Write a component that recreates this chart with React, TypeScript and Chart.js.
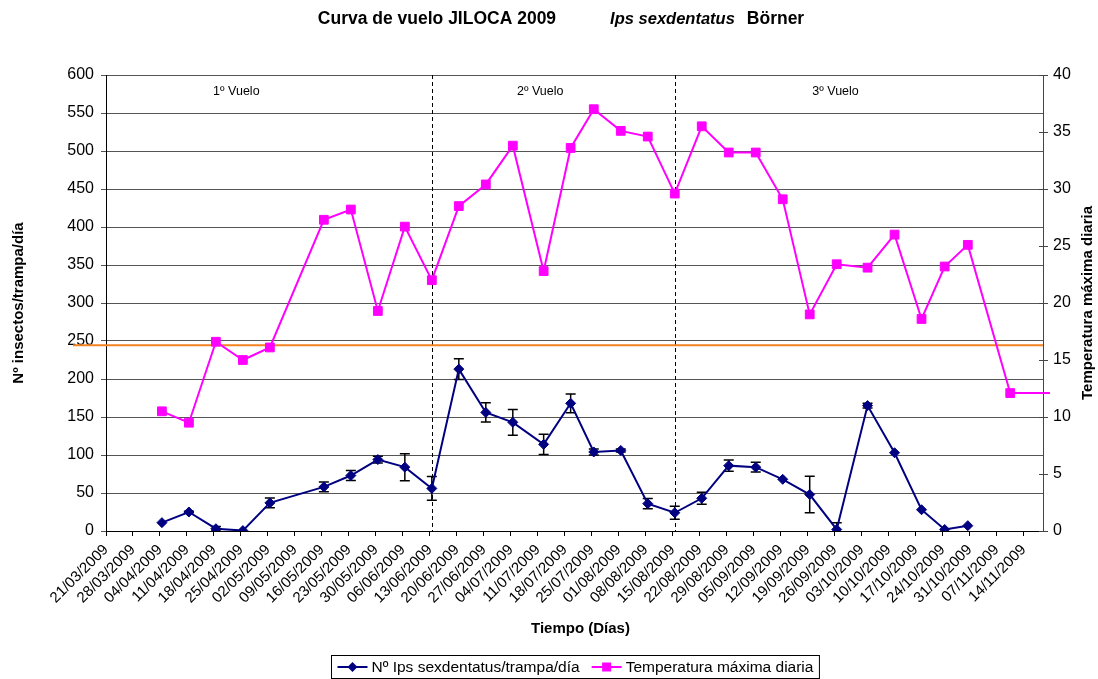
import React, { useEffect, useRef } from 'react';
import { Chart, registerables } from 'chart.js';

Chart.register(...registerables);

// Weekly tick labels on the date axis (days counted from 21/03/2009)
const tickLabels = [
  '21/03/2009', '28/03/2009', '04/04/2009', '11/04/2009', '18/04/2009', '25/04/2009',
  '02/05/2009', '09/05/2009', '16/05/2009', '23/05/2009', '30/05/2009', '06/06/2009',
  '13/06/2009', '20/06/2009', '27/06/2009', '04/07/2009', '11/07/2009', '18/07/2009',
  '25/07/2009', '01/08/2009', '08/08/2009', '15/08/2009', '22/08/2009', '29/08/2009',
  '05/09/2009', '12/09/2009', '19/09/2009', '26/09/2009', '03/10/2009', '10/10/2009',
  '17/10/2009', '24/10/2009', '31/10/2009', '07/11/2009', '14/11/2009',
];
const axisDays = 243;

// Sampling days (days since 21/03/2009)
const sampleDays = [14, 21, 28, 35, 42, 56, 63, 70, 77, 84, 91, 98, 105, 113, 120, 126, 133, 140, 147, 154, 161, 168, 175, 182, 189, 197, 204, 211, 217, 223];
const insectValues = [11, 25, 3, 0.5, 37, 58, 73, 94, 84, 56, 213, 156, 143, 114, 168, 104, 106, 36, 24, 43, 86, 84, 68, 48, 2, 165, 103, 28, 2, 7];
const insectErrors = [0, 1, 3, 0, 6.5, 6.5, 6.6, 4.4, 17.8, 15.6, 13.6, 12.7, 16.9, 13.4, 12.3, 4, 2, 6.6, 8.6, 7.9, 7.5, 6.4, 0, 24, 8.8, 3, 0, 0, 0, 0];

const tempDays = [14, 21, 28, 35, 42, 56, 63, 70, 77, 84, 91, 98, 105, 113, 120, 126, 133, 140, 147, 154, 161, 168, 175, 182, 189, 197, 204, 211, 217, 223, 234, 244.3];
const tempValues = [10.5, 9.5, 16.6, 15.0, 16.1, 27.3, 28.2, 19.3, 26.7, 22.0, 28.5, 30.4, 33.8, 22.8, 33.6, 37.0, 35.1, 34.6, 29.6, 35.5, 33.2, 33.2, 29.1, 19.0, 23.4, 23.1, 26.0, 18.6, 23.2, 25.1, 12.1, 12.1];

const flightLabels = ['1º Vuelo', '2º Vuelo', '3º Vuelo'];
const flightLabelDays = [33.8, 112.6, 189.2];
const flightLimitDays = [84, 147];
const thresholdTemp = 16.3;

const seriesNames = ['Nº Ips sexdentatus/trampa/día', 'Temperatura máxima diaria'];
const yTitle = 'Nº insectos/trampa/día';
const y2Title = 'Temperatura máxima diaria';
const xTitle = 'Tiempo (Días)';
const titleParts = ['Curva de vuelo JILOCA 2009', 'Ips sexdentatus', 'Börner'];

const FONT = '"Liberation Sans", Arial, sans-serif';
const NAVY = '#000080';
const MAGENTA = '#FF00FF';

const decor = {
  id: 'decor',
  beforeDatasetsDraw(chart: any) {
    const { ctx, chartArea: a, scales } = chart;
    const x = scales.x, y = scales.y, y2 = scales.y2;
    ctx.save();
    // dashed flight limits
    ctx.strokeStyle = '#000';
    ctx.lineWidth = 1;
    ctx.setLineDash([4, 3]);
    flightLimitDays.forEach((d) => {
      const px = Math.round(x.getPixelForValue(d + 0.5)) + 0.5;
      ctx.beginPath();
      ctx.moveTo(px, a.top);
      ctx.lineTo(px, a.bottom);
      ctx.stroke();
    });
    ctx.setLineDash([]);
    // threshold line
    const py = y2.getPixelForValue(thresholdTemp);
    ctx.strokeStyle = '#F58220';
    ctx.lineWidth = 2;
    ctx.beginPath();
    ctx.moveTo(a.left - 33, py);
    ctx.lineTo(a.right, py);
    ctx.stroke();
    // error bars
    ctx.beginPath();
    ctx.rect(a.left, a.top, a.right - a.left, a.bottom - a.top);
    ctx.clip();
    ctx.strokeStyle = '#000';
    ctx.lineWidth = 1.5;
    sampleDays.forEach((d, i) => {
      const e = insectErrors[i];
      if (!e) return;
      const px = x.getPixelForValue(d + 0.5);
      const top = y.getPixelForValue(insectValues[i] + e);
      const bot = y.getPixelForValue(insectValues[i] - e);
      ctx.beginPath();
      ctx.moveTo(px, top); ctx.lineTo(px, bot);
      ctx.moveTo(px - 5, top); ctx.lineTo(px + 5, top);
      ctx.moveTo(px - 5, bot); ctx.lineTo(px + 5, bot);
      ctx.stroke();
    });
    ctx.restore();
  },
  afterDraw(chart: any) {
    const { ctx, chartArea: a, scales } = chart;
    const x = scales.x, y2 = scales.y2;
    ctx.save();
    ctx.fillStyle = '#000';
    // inner ticks on right axis
    ctx.strokeStyle = '#444';
    ctx.lineWidth = 1;
    y2.ticks.forEach((t: any) => {
      const py = Math.round(y2.getPixelForValue(t.value)) + 0.5;
      ctx.beginPath();
      ctx.moveTo(a.right - 4, py);
      ctx.lineTo(a.right, py);
      ctx.stroke();
    });
    // flight labels
    ctx.font = `12.5px ${FONT}`;
    ctx.textAlign = 'center';
    ctx.textBaseline = 'middle';
    flightLabels.forEach((l, i) => {
      ctx.fillText(l, x.getPixelForValue(flightLabelDays[i]), a.top + 17);
    });
    // axis titles
    ctx.font = `bold 15px ${FONT}`;
    ctx.fillText(xTitle, (a.left + a.right) / 2 + 6, 629);
    ctx.save();
    ctx.translate(19, (a.top + a.bottom) / 2);
    ctx.rotate(-Math.PI / 2);
    ctx.fillText(yTitle, 0, 0);
    ctx.restore();
    ctx.save();
    ctx.translate(1088, (a.top + a.bottom) / 2);
    ctx.rotate(-Math.PI / 2);
    ctx.fillText(y2Title, 0, 0);
    ctx.restore();
    // main title
    const fonts = [`bold 17.5px ${FONT}`, `italic bold 16.5px ${FONT}`, `bold 17.5px ${FONT}`];
    const gaps = [54, 12];
    const widths = titleParts.map((t, i) => { ctx.font = fonts[i]; return ctx.measureText(t).width; });
    const total = widths.reduce((s, w) => s + w, 0) + gaps[0] + gaps[1];
    let cx = 561 - total / 2;
    ctx.textAlign = 'left';
    titleParts.forEach((t, i) => {
      ctx.font = fonts[i];
      ctx.fillText(t, cx, 19);
      cx += widths[i] + (gaps[i] || 0);
    });
    // legend
    ctx.font = `15.5px ${FONT}`;
    const w1 = ctx.measureText(seriesNames[0]).width;
    const w2 = ctx.measureText(seriesNames[1]).width;
    const sample = 30, pad = 6, gap = 4, between = 12;
    const lw = pad + sample + gap + w1 + between + sample + gap + w2 + pad;
    const lx = Math.round(575 - lw / 2) + 0.5;
    const ly = 655.5, lh = 23;
    ctx.fillStyle = '#fff';
    ctx.fillRect(lx, ly, lw, lh);
    ctx.strokeStyle = '#000';
    ctx.lineWidth = 1;
    ctx.strokeRect(lx, ly, lw, lh);
    const my = ly + lh / 2;
    let px = lx + pad;
    // series 1 sample
    ctx.strokeStyle = NAVY; ctx.lineWidth = 2;
    ctx.beginPath(); ctx.moveTo(px, my); ctx.lineTo(px + sample, my); ctx.stroke();
    ctx.fillStyle = NAVY;
    ctx.beginPath();
    const c1 = px + sample / 2;
    ctx.moveTo(c1, my - 5); ctx.lineTo(c1 + 5, my); ctx.lineTo(c1, my + 5); ctx.lineTo(c1 - 5, my); ctx.closePath(); ctx.fill();
    px += sample + gap;
    ctx.fillStyle = '#000';
    ctx.textBaseline = 'middle';
    ctx.fillText(seriesNames[0], px, my + 1);
    px += w1 + between;
    ctx.strokeStyle = MAGENTA;
    ctx.beginPath(); ctx.moveTo(px, my); ctx.lineTo(px + sample, my); ctx.stroke();
    ctx.fillStyle = MAGENTA;
    ctx.fillRect(px + sample / 2 - 4.5, my - 4.5, 9, 9);
    px += sample + gap;
    ctx.fillStyle = '#000';
    ctx.fillText(seriesNames[1], px, my + 1);
    ctx.restore();
  },
};

export default function App() {
  const ref = useRef<HTMLCanvasElement>(null);
  useEffect(() => {
    document.body.style.margin = '0';
    const canvas = ref.current;
    if (!canvas) return;
    const chart = new Chart(canvas, {
      type: 'line',
      data: {
        datasets: [
          {
            label: seriesNames[0],
            data: sampleDays.map((d, i) => ({ x: d + 0.5, y: insectValues[i] })),
            borderColor: NAVY,
            backgroundColor: NAVY,
            borderWidth: 2,
            pointStyle: 'rectRot',
            pointRadius: 5,
            pointBorderWidth: 1,
            tension: 0,
            yAxisID: 'y',
          },
          {
            label: seriesNames[1],
            data: tempDays.map((d, i) => ({ x: d + 0.5, y: tempValues[i] })),
            borderColor: MAGENTA,
            backgroundColor: MAGENTA,
            borderWidth: 2,
            pointStyle: 'rect',
            pointRadius: tempDays.map((d) => (d > axisDays ? 0 : 6.2)),
            pointBorderWidth: 1,
            tension: 0,
            yAxisID: 'y2',
            clip: false,
          } as any,
        ],
      },
      options: {
        responsive: false,
        animation: false,
        layout: { padding: { top: 75, left: 0, right: 0, bottom: 0 } },
        plugins: {
          legend: { display: false },
          title: { display: false },
          tooltip: { enabled: false },
        },
        scales: {
          x: {
            type: 'linear',
            min: 0,
            max: axisDays,
            afterBuildTicks: (s: any) => {
              s.ticks = tickLabels.map((_, i) => ({ value: i * 7 }));
            },
            afterFit: (s: any) => { s.height = 148; },
            ticks: {
              autoSkip: false,
              maxRotation: 45,
              minRotation: 45,
              color: '#000',
              font: { family: FONT, size: 15 },
              padding: 5,
              callback: (v: any) => tickLabels[Math.round(Number(v) / 7)],
            },
            grid: { drawOnChartArea: false, color: '#000', tickLength: 5 },
            border: { color: '#000' },
          },
          y: {
            position: 'left',
            min: 0,
            max: 600,
            afterFit: (s: any) => { s.width = 106; },
            ticks: { stepSize: 50, color: '#000', font: { family: FONT, size: 16 }, padding: 7 },
            grid: { color: '#555', tickLength: 5 },
            border: { color: '#000' },
          },
          y2: {
            position: 'right',
            min: 0,
            max: 40,
            afterFit: (s: any) => { s.width = 55; },
            ticks: { stepSize: 5, color: '#000', font: { family: FONT, size: 16 }, padding: 5 },
            grid: { drawOnChartArea: false, color: '#444', tickLength: 5 },
            border: { color: '#444' },
          },
        },
      } as any,
      plugins: [decor],
    });
    return () => chart.destroy();
  }, []);
  return (
    <div style={{ width: 1098, height: 679, position: 'relative' }}>
      <canvas ref={ref} width={1098} height={679} />
    </div>
  );
}
